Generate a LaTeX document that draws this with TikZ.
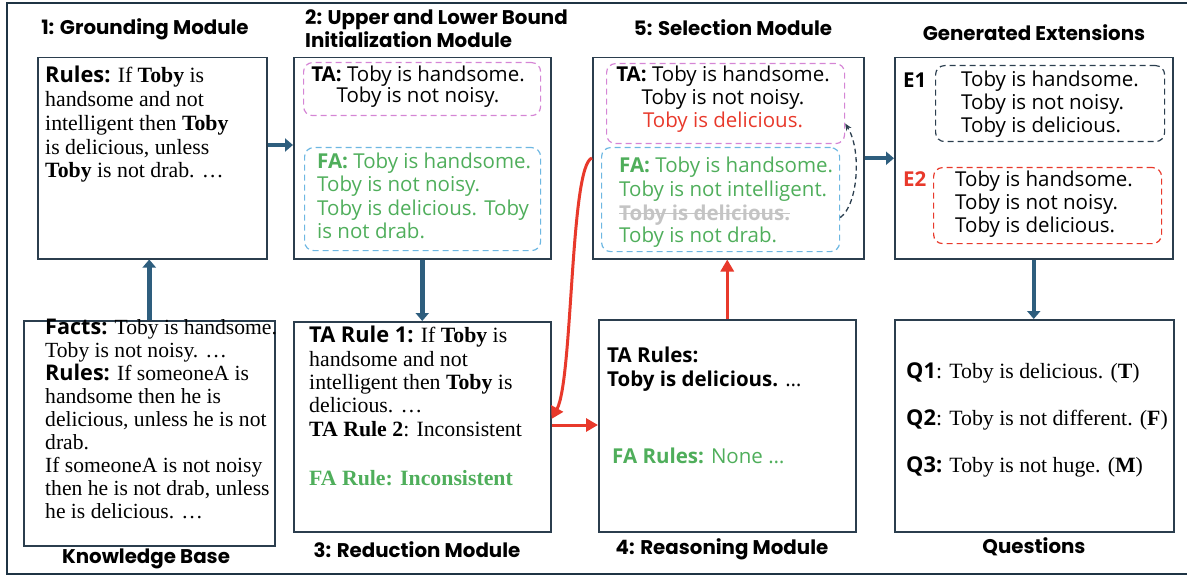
\documentclass[tikz,border=0pt]{standalone}
\usepackage{fontspec}
\usetikzlibrary{arrows.meta}
\setmainfont{Liberation Serif}
\newfontfamily\bodysans{Open Sans}
\newfontfamily\titlefont{Poppins}
\definecolor{framecol}{HTML}{1F3444}
\definecolor{boxcol}{HTML}{2B3E4E}
\definecolor{arrblue}{HTML}{2E5E7E}
\definecolor{redc}{HTML}{E8392B}
\definecolor{greenc}{HTML}{4FAE5B}
\definecolor{magc}{HTML}{D585D5}
\definecolor{lbluec}{HTML}{6DB7E2}
\definecolor{grayc}{HTML}{C4C4C4}
\newcommand{\sansb}[1]{{\bodysans\bfseries #1}}
\newcommand{\serA}{\fontsize{21.8}{23.8}\selectfont}
\newcommand{\serB}{\fontsize{21.6}{22.9}\selectfont}
\newcommand{\serC}{\fontsize{21.8}{23.3}\selectfont}
\newcommand{\sanA}{\bodysans\fontsize{20.5}{21.5}\selectfont}
\newcommand{\sanC}{\bodysans\fontsize{20.5}{23}\selectfont}
\newcommand{\sanB}{\bodysans\fontsize{20.5}{23.4}\selectfont}
\newcommand{\ttl}{\titlefont\bfseries\fontsize{19.8}{23.5}\selectfont}
\tikzset{
  box/.style={draw=boxcol, line width=1.5pt, inner sep=0pt, anchor=north west},
  dbox/.style={draw=#1, dashed, dash pattern=on 6pt off 4pt, line width=1.2pt, rounded corners=9pt, inner sep=0pt, anchor=north west},
  txt/.style={inner sep=0pt, align=left},
  ctxt/.style={inner sep=0pt, align=center},
  ttlnode/.style={inner sep=0pt, font=\ttl, align=left},
  bluearrow/.style={draw=arrblue, line width=4.5pt, -{Triangle[length=8pt,width=13pt]}, fill=arrblue},
  redarrow/.style={draw=redc, line width=3pt, -{Triangle[length=12pt,width=13pt]}},
  dasharrow/.style={draw=boxcol, line width=1.3pt, dash pattern=on 5pt off 3.5pt, -{Stealth[length=7pt,width=6pt]}}
}
\begin{document}
\begin{tikzpicture}[x=1pt,y=-1pt]
\useasboundingbox (0,0) rectangle (1187,575);
\draw[framecol, line width=2pt] (7,3) rectangle (1200,574);

% titles (base anchor = baseline of last line)
\node[ttlnode, anchor=base] (t1) at (145,35) {1: Grounding Module};
\node[ttlnode, anchor=base west] (t2) at (305,48) {2: Upper and Lower Bound\\Initialization Module};
\node[ttlnode, anchor=base] (t5) at (733,36) {5: Selection Module};
\node[ttlnode, anchor=base] (tE) at (1034,41) {Generated Extensions};
\node[ttlnode, anchor=base] (tKB) at (146,563) {Knowledge Base};
\node[ttlnode, anchor=base] (t3) at (417,557) {3: Reduction Module};
\node[ttlnode, anchor=base] (t4) at (722,554) {4: Reasoning Module};
\node[ttlnode, anchor=base] (tQ) at (1034,553) {Questions};

% main boxes
\node[box, minimum width=229pt, minimum height=201pt] (g) at (37,57) {};
\node[box, minimum width=257pt, minimum height=201pt] (u) at (293,57) {};
\node[box, minimum width=271pt, minimum height=201pt] (s) at (592,57) {};
\node[box, minimum width=278pt, minimum height=201pt] (e) at (894,57) {};
\node[box, minimum width=251pt, minimum height=225pt] (kb) at (23,320) {};
\node[box, minimum width=257pt, minimum height=210pt] (rd) at (293,321) {};
\node[box, minimum width=257pt, minimum height=212pt] (rs) at (598,319) {};
\node[box, minimum width=279pt, minimum height=212pt] (q) at (894,319) {};

% dashed inner boxes
\node[dbox=magc, minimum width=237pt, minimum height=53pt] (uTA) at (303,62) {};
\node[dbox=lbluec, minimum width=236pt, minimum height=103pt] (uFA) at (304,147) {};
\node[dbox=magc, minimum width=238pt, minimum height=80pt] (sTA) at (606,63) {};
\node[dbox=lbluec, minimum width=238pt, minimum height=104pt] (sFA) at (601,147) {};
\node[dbox=boxcol, minimum width=229pt, minimum height=76pt] (e1) at (935,65) {};
\node[dbox=redc, minimum width=228pt, minimum height=76pt] (e2) at (933,167) {};

% texts
\node[txt, font=\serA, anchor=base west] (gtxt) at (45,178) {\sansb{Rules:} If \textbf{Toby} is\\handsome and not\\intelligent then \textbf{Toby}\\is delicious, unless\\\textbf{Toby} is not drab. \ldots};

\node[ctxt, font=\sanA, anchor=base] (uTAt) at (418,103) {\textbf{TA:} Toby is handsome.\\Toby is not noisy.};
\node[txt, font=\sanB, text=greenc, anchor=base west] (uFAt) at (317,238.5) {\textbf{FA:} Toby is handsome.\\Toby is not noisy.\\Toby is delicious. Toby\\is not drab.};

\node[ctxt, font=\sanC, anchor=base] (sTAt) at (723,128) {\textbf{TA:} Toby is handsome.\\Toby is not noisy.\\\textcolor{redc}{Toby is delicious.}};
\node[txt, font=\sanB, text=greenc, anchor=base west] (sFAt) at (619,243) {\textbf{FA:} Toby is handsome.\\Toby is not intelligent.\\\mbox{}\\Toby is not drab.};
\node[txt, font=\sanB\bfseries, text=grayc, anchor=base west] (strk) at (619,220) {Toby is delicious.};
\draw[grayc, line width=1.6pt] ([yshift=6.5pt]strk.base west) -- ([yshift=6.5pt]strk.base east);

\node[txt, font=\sanB, anchor=base west] (e1t) at (961,133) {Toby is handsome.\\Toby is not noisy.\\Toby is delicious.};
\node[txt, font=\sanB, anchor=base west] (e2t) at (955,233) {Toby is handsome.\\Toby is not noisy.\\Toby is delicious.};
\node[txt, font=\sanB\bfseries, anchor=base west] (e1l) at (903,88) {E1};
\node[txt, font=\sanB\bfseries, text=redc, anchor=base west] (e2l) at (903,186) {E2};

\node[txt, font=\serB, anchor=base west] (kbt) at (45,518) {\sansb{Facts:} Toby is handsome.\\Toby is not noisy. \ldots\\\sansb{Rules:} If someoneA is\\handsome then he is\\delicious, unless he is not\\drab.\\If someoneA is not noisy\\then he is not drab, unless\\he is delicious. \ldots};

\node[txt, font=\serC, anchor=base west] (rdt) at (309,436) {\sansb{TA Rule 1:} If \textbf{Toby} is\\handsome and not\\intelligent then \textbf{Toby} is\\delicious. \ldots\\\textbf{TA Rule 2}: Inconsistent};
\node[txt, font=\serC\bfseries, text=greenc, anchor=base west] (rdfa) at (309,485) {FA Rule: Inconsistent};

\node[txt, font=\sanB, anchor=base west] (rst) at (607,386) {\textbf{TA Rules:}\\\textbf{Toby is delicious.} \ldots};
\node[txt, font=\sanB, text=greenc, anchor=base west] (rsfa) at (612,463) {\textbf{FA Rules:} None \ldots};

\node[txt, font=\serA, anchor=base west] (q1) at (906,378) {\sansb{Q1}: Toby is delicious. (\textbf{T})};
\node[txt, font=\serA, anchor=base west] (q2) at (906,425) {\sansb{Q2}: Toby is not different. (\textbf{F})};
\node[txt, font=\serA, anchor=base west] (q3) at (906,472) {\sansb{Q3:} Toby is not huge. (\textbf{M})};

% connectors
\draw[bluearrow] (kb.north) -- (kb.north |- g.south);
\draw[bluearrow] (g.east |- 0,145) -- (u.west |- 0,145);
\draw[bluearrow] (u.south) -- (u.south |- rd.north);
\draw[bluearrow] (s.east) -- (s.east -| e.west);
\draw[bluearrow] (e.south) -- (e.south |- q.north);
\draw[redarrow] (rs.north) -- (rs.north |- s.south);
\draw[redarrow] (rd.east |- 0,425) -- (rs.west |- 0,425);
\draw[redarrow] (s.west |- 0,158) .. controls (570,165) and (573,380) .. (rd.east |- 0,419);
\draw[dasharrow] ([yshift=-18pt]sFA.east) .. controls (858,205) and (862,150) .. ([yshift=-20pt]sTA.east);
\end{tikzpicture}
\end{document}
